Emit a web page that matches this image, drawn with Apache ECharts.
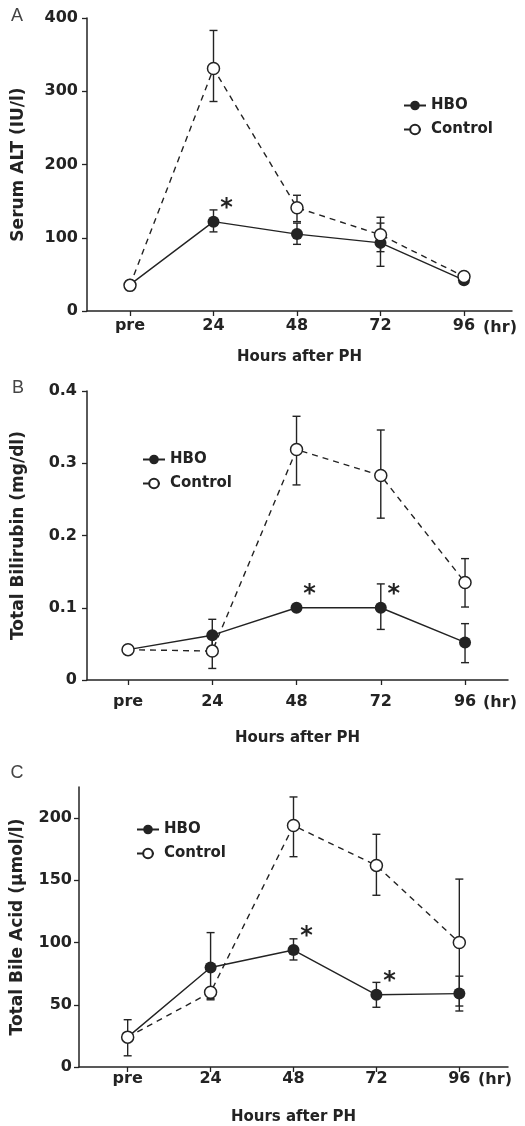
<!DOCTYPE html>
<html>
<head>
<meta charset="utf-8">
<script src="https://cdn.jsdelivr.net/npm/echarts@6/dist/echarts.min.js"></script>
<style>
  html, body { margin: 0; padding: 0; background: #fff; }
  #chart { width: 525px; height: 1126px; }
</style>
</head>
<body>
<div id="chart"></div>
<script>
const hours = ['pre', '24', '48', '72', '96'];

// A: serum ALT (IU/l)
const altHbo = [36, 122, 105, 93, 42];
const altHboLow = [null, 108, 91, 61, null];
const altHboHigh = [null, 138, 120, 120, null];
const altCtrl = [35, 331, 141, 104, 47];
const altCtrlLow = [null, 286, 122, 81, null];
const altCtrlHigh = [null, 383, 158, 128, null];
const altStar = [false, true, false, false, false];

// B: total bilirubin (mg/dl)
const tbHbo = [0.042, 0.062, 0.100, 0.100, 0.052];
const tbHboLow = [null, 0.037, null, 0.070, 0.024];
const tbHboHigh = [null, 0.084, null, 0.133, 0.078];
const tbCtrl = [0.042, 0.040, 0.319, 0.283, 0.135];
const tbCtrlLow = [null, 0.016, 0.270, 0.224, 0.101];
const tbCtrlHigh = [null, 0.062, 0.365, 0.346, 0.168];
const tbStar = [false, false, true, true, false];

// C: total bile acid (umol/l)
const baHbo = [24, 80, 94, 58, 59];
const baHboLow = [9, 54, 86, 48, 45];
const baHboHigh = [38, 108, 103, 68, 73];
const baCtrl = [24, 60, 194, 162, 100];
const baCtrlLow = [null, 55, 169, 138, 49];
const baCtrlHigh = [null, null, 217, 187, 151];
const baStar = [false, false, true, true, false];

const yTicksA = [0, 100, 200, 300, 400];
const yTicksB = [0, 0.1, 0.2, 0.3, 0.4];
const yTicksC = [0, 50, 100, 150, 200];

const ink = '#232323';
const font = 'DejaVu Sans';

const panels = [
  {
    letter: 'A', yName: 'Serum ALT (IU/l)', yMax: 400, yTicks: yTicksA,
    hbo: altHbo, hboLow: altHboLow, hboHigh: altHboHigh,
    ctrl: altCtrl, ctrlLow: altCtrlLow, ctrlHigh: altCtrlHigh, star: altStar,
    grid: { left: 87, top: 18, width: 425, height: 293 },
    xMin: -0.515, xMax: 4.575, xLabelMargin: 7, xNameGap: 39, yNameGap: 60, yLabelMargin: 9,
    legend: { left: 398, top: 93 }, letterPos: [17, 16], hrPos: [500, 328]
  },
  {
    letter: 'B', yName: 'Total Bilirubin (mg/dl)', yMax: 0.4, yTicks: yTicksB,
    hbo: tbHbo, hboLow: tbHboLow, hboHigh: tbHboHigh,
    ctrl: tbCtrl, ctrlLow: tbCtrlLow, ctrlHigh: tbCtrlHigh, star: tbStar,
    grid: { left: 87, top: 391, width: 421, height: 289 },
    xMin: -0.487, xMax: 4.51, xLabelMargin: 14, xNameGap: 51, yNameGap: 60, yLabelMargin: 10,
    legend: { left: 137, top: 447 }, letterPos: [18, 388], hrPos: [500, 703]
  },
  {
    letter: 'C', yName: 'Total Bile Acid (\u03bcmol/l)', yMax: 225, yTicks: yTicksC,
    hbo: baHbo, hboLow: baHboLow, hboHigh: baHboHigh,
    ctrl: baCtrl, ctrlLow: baCtrlLow, ctrlHigh: baCtrlHigh, star: baStar,
    grid: { left: 79, top: 787, width: 429, height: 281 },
    xMin: -0.587, xMax: 4.587, xLabelMargin: 4, xNameGap: 43, yNameGap: 53, yLabelMargin: 7,
    legend: { left: 131, top: 817 }, letterPos: [17, 773], hrPos: [495, 1080]
  }
];

function errorBar(params, api) {
  const x = api.value(0);
  const lo = api.coord([x, api.value(1)]);
  const hi = api.coord([x, api.value(2)]);
  const cap = 4;
  const style = { stroke: ink, lineWidth: 1.4 };
  return {
    type: 'group',
    children: [
      { type: 'line', shape: { x1: lo[0], y1: lo[1], x2: hi[0], y2: hi[1] }, style },
      { type: 'line', shape: { x1: lo[0] - cap, y1: lo[1], x2: lo[0] + cap, y2: lo[1] }, style },
      { type: 'line', shape: { x1: hi[0] - cap, y1: hi[1], x2: hi[0] + cap, y2: hi[1] }, style }
    ]
  };
}

// error bar data: [x, low, high]; a missing end falls back to the mean
function barData(mean, low, high) {
  const out = [];
  mean.forEach((m, i) => {
    if (low[i] == null && high[i] == null) return;
    out.push([i, low[i] == null ? m : low[i], high[i] == null ? m : high[i]]);
  });
  return out;
}

const starLabel = {
  show: true, formatter: '*', position: 'top', distance: 0, offset: [13, 5],
  color: ink, fontSize: 24, fontWeight: 'bold', fontFamily: font
};

const grids = [], xAxes = [], yAxes = [], legends = [], series = [], texts = [];

panels.forEach((p, k) => {
  grids.push(p.grid);
  xAxes.push({
    type: 'value', gridIndex: k, min: p.xMin, max: p.xMax,
    name: 'Hours after PH', nameLocation: 'middle', nameGap: p.xNameGap,
    nameTextStyle: { color: ink, fontSize: 15, fontWeight: 'bold', fontFamily: font },
    axisLine: { onZero: false, lineStyle: { color: ink, width: 1.5 } },
    axisTick: { customValues: [0, 1, 2, 3, 4], length: 5, lineStyle: { color: ink, width: 1.3 } },
    axisLabel: {
      customValues: [0, 1, 2, 3, 4], margin: p.xLabelMargin,
      formatter: (v) => hours[Math.round(v)],
      color: ink, fontSize: 16, fontWeight: 'bold', fontFamily: font
    },
    splitLine: { show: false }
  });
  yAxes.push({
    type: 'value', gridIndex: k, min: 0, max: p.yMax,
    name: p.yName, nameLocation: 'middle', nameGap: p.yNameGap, nameRotate: 90,
    nameTextStyle: { color: ink, fontSize: 17, fontWeight: 'bold', fontFamily: font },
    axisLine: { show: true, onZero: false, lineStyle: { color: ink, width: 1.5 } },
    axisTick: { show: true, customValues: p.yTicks, length: 5, lineStyle: { color: ink, width: 1.3 } },
    axisLabel: {
      customValues: p.yTicks, margin: p.yLabelMargin,
      color: ink, fontSize: 16, fontWeight: 'bold', fontFamily: font
    },
    splitLine: { show: false }
  });
  legends.push({
    data: ['HBO', 'Control'], orient: 'vertical', left: p.legend.left, top: p.legend.top,
    itemWidth: 22, itemHeight: 12, itemGap: 9,
    textStyle: { color: ink, fontSize: 15, fontWeight: 'bold', fontFamily: font }
  });

  series.push(
    {
      type: 'custom', xAxisIndex: k, yAxisIndex: k, renderItem: errorBar,
      encode: { x: 0, y: [1, 2] }, data: barData(p.hbo, p.hboLow, p.hboHigh), z: 1, silent: true
    },
    {
      type: 'custom', xAxisIndex: k, yAxisIndex: k, renderItem: errorBar,
      encode: { x: 0, y: [1, 2] }, data: barData(p.ctrl, p.ctrlLow, p.ctrlHigh), z: 1, silent: true
    },
    {
      name: 'HBO', type: 'line', xAxisIndex: k, yAxisIndex: k, z: 2,
      symbol: 'circle', symbolSize: 12,
      itemStyle: { color: ink },
      lineStyle: { color: ink, width: 1.4 },
      data: p.hbo.map((v, i) => p.star[i] ? { value: [i, v], label: starLabel } : [i, v])
    },
    {
      name: 'Control', type: 'line', xAxisIndex: k, yAxisIndex: k, z: 3,
      symbol: 'circle', symbolSize: 12,
      itemStyle: { color: '#fff', borderColor: ink, borderWidth: 1.5 },
      lineStyle: { color: ink, width: 1.4, type: [6, 5] },
      data: p.ctrl.map((v, i) => [i, v])
    }
  );

  texts.push(
    {
      type: 'text', x: p.letterPos[0], y: p.letterPos[1],
      style: { text: p.letter, fill: '#444', font: '18px "Liberation Sans"', align: 'center', verticalAlign: 'middle' }
    },
    {
      type: 'text', x: p.hrPos[0], y: p.hrPos[1],
      style: { text: '(hr)', fill: ink, font: 'bold 16px "DejaVu Sans"', align: 'center', verticalAlign: 'middle' }
    }
  );
});

const chart = echarts.init(document.getElementById('chart'));
chart.setOption({
  backgroundColor: '#fff',
  animation: false,
  grid: grids,
  xAxis: xAxes,
  yAxis: yAxes,
  legend: legends,
  series,
  graphic: texts
});
window.addEventListener('resize', () => chart.resize());
</script>
</body>
</html>
